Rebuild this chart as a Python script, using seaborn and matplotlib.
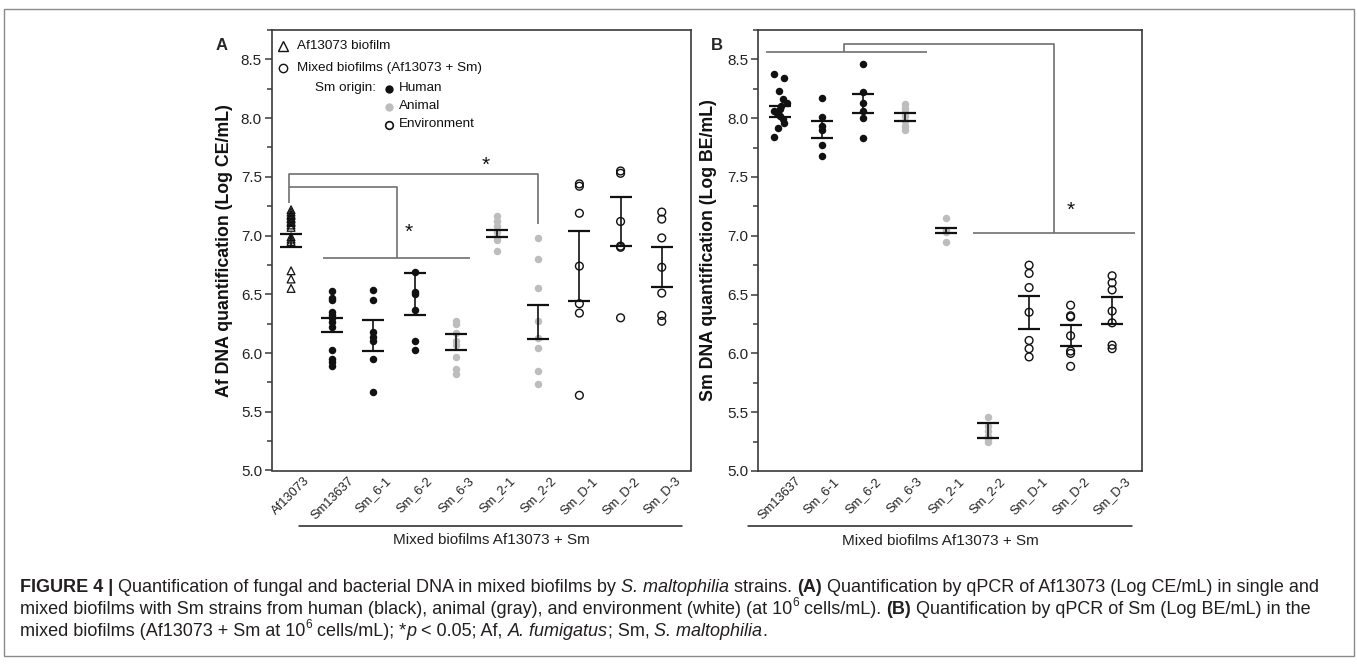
import matplotlib
matplotlib.use("Agg")
import matplotlib.pyplot as plt
import seaborn as sns
import numpy as np
import pandas as pd
from matplotlib import font_manager
from matplotlib.patches import Rectangle
from matplotlib.lines import Line2D
from matplotlib.ticker import MultipleLocator, FormatStrFormatter
import matplotlib.transforms as mtransforms

# ---------------- data ----------------
cats_a = ["Af13073", "Sm13637", "Sm_6-1", "Sm_6-2", "Sm_6-3",
          "Sm_2-1", "Sm_2-2", "Sm_D-1", "Sm_D-2", "Sm_D-3"]
cats_b = cats_a[1:]
fungus_only = ["Af13073"]
origin_human = ["Sm13637", "Sm_6-1", "Sm_6-2"]
origin_animal = ["Sm_6-3", "Sm_2-1", "Sm_2-2"]
origin_env = ["Sm_D-1", "Sm_D-2", "Sm_D-3"]

# Panel A: Af DNA (Log CE/mL)
a_af13073 = [7.22, 7.20, 7.18, 7.17, 7.15, 7.14, 7.12, 7.11, 7.09, 7.07,
             6.99, 6.97, 6.95, 6.70, 6.63, 6.55]
a_sm13637 = [6.53, 6.47, 6.45, 6.35, 6.32, 6.30, 6.26, 6.22, 6.03, 5.95, 5.92, 5.89]
a_sm_6_1 = [6.54, 6.45, 6.18, 6.14, 6.10, 5.95, 5.67]
a_sm_6_2 = [6.69, 6.52, 6.50, 6.37, 6.10, 6.03]
a_sm_6_3 = [6.27, 6.25, 6.17, 6.10, 6.07, 5.97, 5.86, 5.82]
a_sm_2_1 = [7.17, 7.12, 7.08, 7.03, 6.99, 6.96, 6.87]
a_sm_2_2 = [6.98, 6.80, 6.55, 6.27, 6.13, 6.04, 5.85, 5.74]
a_sm_d_1 = [7.44, 7.42, 7.19, 6.74, 6.42, 6.34, 5.64]
a_sm_d_2 = [7.55, 7.53, 7.12, 6.91, 6.90, 6.30]
a_sm_d_3 = [7.20, 7.14, 6.98, 6.73, 6.51, 6.32, 6.27]
a_mean = [6.955, 6.24, 6.15, 6.50, 6.095, 7.02, 6.265, 6.74, 7.12, 6.73]
a_sem = [0.055, 0.06, 0.13, 0.18, 0.065, 0.03, 0.145, 0.30, 0.21, 0.17]

# Panel B: Sm DNA (Log BE/mL)
b_sm13637 = [8.38, 8.34, 8.23, 8.16, 8.13, 8.10, 8.08, 8.06, 8.04, 8.02,
             7.99, 7.96, 7.92, 7.84]
b_sm_6_1 = [8.17, 8.01, 7.93, 7.90, 7.77, 7.68]
b_sm_6_2 = [8.46, 8.22, 8.13, 8.06, 8.00, 7.83]
b_sm_6_3 = [8.12, 8.09, 8.05, 8.02, 7.98, 7.93, 7.90]
b_sm_2_1 = [7.15, 7.05, 7.03, 6.95]
b_sm_2_2 = [5.46, 5.38, 5.34, 5.30, 5.27, 5.25]
b_sm_d_1 = [6.75, 6.68, 6.56, 6.35, 6.11, 6.04, 5.97]
b_sm_d_2 = [6.41, 6.32, 6.31, 6.15, 6.02, 6.00, 5.89]
b_sm_d_3 = [6.66, 6.60, 6.54, 6.36, 6.26, 6.07, 6.04]
b_mean = [8.055, 7.905, 8.125, 8.01, 7.045, 5.345, 6.35, 6.15, 6.365]
b_sem = [0.045, 0.075, 0.085, 0.03, 0.025, 0.065, 0.14, 0.09, 0.115]

# significance brackets (category position, value)
brackets_a = [
    [(-0.05, 7.28), (-0.05, 7.52), (6.0, 7.52), (6.0, 7.10)],
    [(-0.05, 7.415), (2.57, 7.415), (2.57, 6.81)],
    [(0.77, 6.81), (4.34, 6.81)],
]
stars_a = [(4.73, 7.60), (2.86, 7.03)]
brackets_b = [
    [(-0.34, 8.56), (3.55, 8.56)],
    [(1.54, 8.56), (1.54, 8.634), (6.61, 8.634), (6.61, 7.028)],
    [(4.66, 7.028), (8.55, 7.028)],
]
stars_b = [(7.01, 7.22)]

caption_lines = [
    [("FIGURE 4 | ", "b"),
     ("Quantification of fungal and bacterial DNA in mixed biofilms by ", "r"),
     ("S. maltophilia", "i"), (" strains. ", "r"), ("(A)", "b"),
     (" Quantification by qPCR of Af13073 (Log CE/mL) in single and", "r")],
    [("mixed biofilms with Sm strains from human (black), animal (gray), and environment (white) (at 10", "r"),
     ("6", "sup"), (" cells/mL). ", "r"), ("(B)", "b"),
     (" Quantification by qPCR of Sm (Log BE/mL) in the", "r")],
    [("mixed biofilms (Af13073 + Sm at 10", "r"), ("6", "sup"),
     (" cells/mL); *", "r"), ("p", "i"), (" < 0.05; Af, ", "r"),
     ("A. fumigatus", "i"), ("; Sm, ", "r"), ("S. maltophilia", "i"), (".", "r")],
]

# ---------------- style ----------------
sns.set_style("ticks")
plt.rcParams["font.family"] = ["Liberation Sans", "DejaVu Sans"]
installed = {f.name for f in font_manager.fontManager.ttflist}
cap_family = "Liberation Sans Narrow" if "Liberation Sans Narrow" in installed else "Liberation Sans"

BLACK = "#111111"
GRAY = "#bdbdbd"
SPINE = "#3a3a3a"
LINE = "#707070"

W, H = 1357, 664
fig = plt.figure(figsize=(W / 100, H / 100), dpi=100)
fig.patch.set_facecolor("white")


def px_axes(l, t, r, b):
    return fig.add_axes([l / W, 1 - b / H, (r - l) / W, (b - t) / H])


axA = px_axes(271.7, 30, 691, 470.5)
axB = px_axes(758, 30, 1142, 471)


def long_df(groups):
    rows = []
    for name, vals in groups.items():
        for v in vals:
            rows.append((name, v))
    return pd.DataFrame(rows, columns=["strain", "value"])


STYLES = {
    "fungus": dict(marker="^", facecolor="none", edgecolor=BLACK, linewidth=0.9, size=5.6),
    "human": dict(marker="o", color=BLACK, linewidth=0, size=5.4),
    "animal": dict(marker="o", color=GRAY, linewidth=0, size=5.4),
    "env": dict(marker="o", facecolor="none", edgecolor=BLACK, linewidth=1.0, size=5.6),
}


def draw_panel(ax, groups, order, mean, sem, xlim, spread=()):
    ax.set_xlim(*xlim)
    ax.set_ylim(5.0, 8.75)
    kinds = {"fungus": fungus_only, "human": origin_human,
             "animal": origin_animal, "env": origin_env}
    for kind, members in kinds.items():
        sub = {k: v for k, v in groups.items() if k in members and k not in spread}
        if sub:
            sns.stripplot(data=long_df(sub), x="strain", y="value", order=order,
                          jitter=False, ax=ax, **STYLES[kind])
        subs = {k: v for k, v in groups.items() if k in members and k in spread}
        if subs:
            np.random.seed(7)
            sns.stripplot(data=long_df(subs), x="strain", y="value", order=order,
                          jitter=0.17, ax=ax, **STYLES[kind])
    ax.errorbar(range(len(order)), mean, yerr=sem, fmt="none", ecolor=BLACK,
                elinewidth=1.2, capsize=7.6, capthick=1.6, zorder=6)
    ax.set_xlim(*xlim)
    ax.set_ylim(5.0, 8.75)
    ax.set_xlabel("")
    ax.set_xticks(range(len(order)))
    ax.set_xticklabels(order, rotation=45, ha="center", va="top")
    ax.tick_params(axis="x", length=0, labelsize=9.3, pad=3, colors="#222222")
    ax.yaxis.set_major_locator(MultipleLocator(0.5))
    ax.yaxis.set_minor_locator(MultipleLocator(0.25))
    ax.yaxis.set_major_formatter(FormatStrFormatter("%.1f"))
    ax.tick_params(axis="y", which="major", length=5, width=1.1, color=SPINE,
                   labelsize=11, pad=2, labelcolor="#222222")
    ax.tick_params(axis="y", which="minor", length=3.5, width=1.1, color=SPINE)
    for s in ax.spines.values():
        s.set_visible(True)
        s.set_color(SPINE)
        s.set_linewidth(1.2)


groups_a = {"Af13073": a_af13073, "Sm13637": a_sm13637, "Sm_6-1": a_sm_6_1,
            "Sm_6-2": a_sm_6_2, "Sm_6-3": a_sm_6_3, "Sm_2-1": a_sm_2_1,
            "Sm_2-2": a_sm_2_2, "Sm_D-1": a_sm_d_1, "Sm_D-2": a_sm_d_2,
            "Sm_D-3": a_sm_d_3}
groups_b = {"Sm13637": b_sm13637, "Sm_6-1": b_sm_6_1, "Sm_6-2": b_sm_6_2,
            "Sm_6-3": b_sm_6_3, "Sm_2-1": b_sm_2_1, "Sm_2-2": b_sm_2_2,
            "Sm_D-1": b_sm_d_1, "Sm_D-2": b_sm_d_2, "Sm_D-3": b_sm_d_3}

draw_panel(axA, groups_a, cats_a, a_mean, a_sem, (-0.47, 9.71))
draw_panel(axB, groups_b, cats_b, b_mean, b_sem, (-0.53, 8.72), spread=("Sm13637",))

axA.set_ylabel("Af DNA quantification (Log CE/mL)", fontsize=12.8, fontweight="bold",
               color="#111111")
axB.set_ylabel("Sm DNA quantification (Log BE/mL)", fontsize=12.8, fontweight="bold",
               color="#111111")
axA.yaxis.set_label_coords((233 - 271.7) / 419.3, 0.5)
axB.yaxis.set_label_coords((717 - 758) / 384, 0.5)

# brackets and stars
for ax, brs, sts in ((axA, brackets_a, stars_a), (axB, brackets_b, stars_b)):
    for br in brs:
        xs, ys = zip(*br)
        ax.plot(xs, ys, color=LINE, lw=1.2, solid_capstyle="butt", zorder=2)
    for sx, sy in sts:
        ax.text(sx, sy, "*", fontsize=15, ha="center", va="center", color="#111111")

# group line under tick labels
for ax, x0, x1, xc in ((axA, 0.2, 9.5, 4.87), (axB, -0.77, 8.49, 3.86)):
    tr = mtransforms.blended_transform_factory(ax.transData, ax.transAxes)
    ax.plot([x0, x1], [-0.125, -0.125], transform=tr, color="#222222", lw=1.1,
            clip_on=False)
    ax.text(xc, -0.158, "Mixed biofilms Af13073 + Sm", transform=tr, ha="center",
            va="center", fontsize=11, color="#222222")

# panel letters
fig.text(222 / W, 1 - 46 / H, "A", fontsize=12, fontweight="bold", ha="center", va="center")
fig.text(717 / W, 1 - 46 / H, "B", fontsize=12, fontweight="bold", ha="center", va="center")


# legend (panel A)
def fpt(x, y):
    return x / W, 1 - y / H


def leg_marker(x, y, **kw):
    fx, fy = fpt(x, y)
    fig.add_artist(Line2D([fx], [fy], transform=fig.transFigure, ls="none", **kw))


def leg_text(x, y, s):
    fx, fy = fpt(x, y)
    fig.text(fx, fy, s, fontsize=9.7, ha="left", va="center", color="#111111")


leg_marker(282.7, 46, marker="^", ms=6.5, mfc="none", mec=BLACK, mew=1.0)
leg_text(296.7, 46, "Af13073 biofilm")
leg_marker(282.7, 67.5, marker="o", ms=6, mfc="none", mec=BLACK, mew=1.0)
leg_text(296.7, 67.5, "Mixed biofilms (Af13073 + Sm)")
leg_text(315, 88.5, "Sm origin:")
leg_marker(389, 88.5, marker="o", ms=6, mfc=BLACK, mec=BLACK, mew=0)
leg_text(399, 88, "Human")
leg_marker(389, 106.5, marker="o", ms=6, mfc=GRAY, mec=GRAY, mew=0)
leg_text(399, 106, "Animal")
leg_marker(389, 124.5, marker="o", ms=5.5, mfc="none", mec=BLACK, mew=1.2)
leg_text(399, 124, "Environment")

# outer border
fig.add_artist(Rectangle((3.5 / W, 1 - 655.5 / H), 1350 / W, 646.5 / H,
                         transform=fig.transFigure, fill=False, ec="#8a8a8a", lw=1.0))

# caption with mixed styles
renderer = fig.canvas.get_renderer()


def style_kw(style, size):
    kw = dict(fontsize=size, family=[cap_family, "DejaVu Sans"])
    if style == "b":
        kw["fontweight"] = "bold"
    elif style == "i":
        kw["fontstyle"] = "italic"
    elif style == "sup":
        kw["fontsize"] = size * 0.66
    return kw


def seg_width(text, style, size):
    t = fig.text(0, 0, "x" + text + "x", **style_kw(style, size))
    w1 = t.get_window_extent(renderer).width
    t.set_text("xx")
    w0 = t.get_window_extent(renderer).width
    t.remove()
    return w1 - w0


base = 10.0
w_line1 = sum(seg_width(s, st, base) for s, st in caption_lines[0])
cap_size = base * (1298.0 / w_line1)

baselines = [592, 614, 636]
for segs, yb in zip(caption_lines, baselines):
    x = 20.0
    for s, st in segs:
        kw = style_kw(st, cap_size)
        y = yb - (cap_size * 0.42 * 100 / 72 if st == "sup" else 0)
        fig.text(x / W, 1 - y / H, s, ha="left", va="baseline", color="#231f20", **kw)
        x += seg_width(s, st, cap_size)

fig.savefig("out.png", dpi=100, facecolor="white")
